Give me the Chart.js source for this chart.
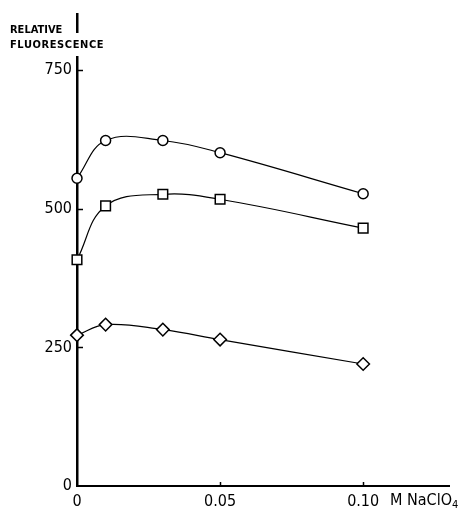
<!DOCTYPE html>
<html>
<head>
<meta charset="utf-8">
<script src="https://cdn.jsdelivr.net/npm/chart.js@4/dist/chart.umd.min.js"></script>
<style>
  html, body { margin: 0; padding: 0; background: #fff; }
  #wrap { width: 463px; height: 509px; }
</style>
</head>
<body>
<div id="wrap"><canvas id="c" width="463" height="509"></canvas></div>
<script>
// NaClO4 concentration (M) at which fluorescence was measured
const concentrations = [0, 0.01, 0.03, 0.05, 0.10];
// Relative fluorescence, one series per marker type
const circleSeries  = [555, 623, 623, 601, 527];
const squareSeries  = [408, 505, 526, 517, 465];
const diamondSeries = [272, 291, 282, 264, 220];
// Labelled tick values
const yTickValues = [0, 250, 500, 750];
const xTickValues = [0, 0.05, 0.10];

const FONT = '"DejaVu Sans Condensed", "DejaVu Sans", sans-serif';

function toPoints(values) {
  return concentrations.map((x, i) => ({ x: x, y: values[i] }));
}

function series(values, style, radius) {
  return {
    data: toPoints(values),
    borderColor: '#000',
    borderWidth: 1.2,
    tension: 0.4,
    fill: false,
    pointStyle: style,
    pointRadius: radius,
    pointBorderWidth: 1.5,
    pointBorderColor: '#000',
    pointBackgroundColor: '#fff',
    clip: false
  };
}

// Title, inward tick marks and the unit label
const decorations = {
  id: 'decorations',
  afterDraw(chart) {
    const ctx = chart.ctx;
    const xs = chart.scales.x, ys = chart.scales.y;
    ctx.save();

    // axis line is broken where the title crosses it
    ctx.fillStyle = '#fff';
    ctx.fillRect(73, 33, 9, 23);

    ctx.fillStyle = '#000';
    ctx.textAlign = 'left';
    ctx.textBaseline = 'alphabetic';
    ctx.font = 'bold 11px ' + FONT;
    ctx.fillText('RELATIVE', 10, 33);
    ctx.font = 'bold 11px ' + FONT;
    if ('letterSpacing' in ctx) ctx.letterSpacing = '0.6px';
    ctx.fillText('FLUORESCENCE', 10, 48);
    if ('letterSpacing' in ctx) ctx.letterSpacing = '0px';

    ctx.strokeStyle = '#000';
    ctx.lineWidth = 1.5;
    const x0 = xs.getPixelForValue(0);
    const y0 = ys.getPixelForValue(0);
    yTickValues.filter(v => v > 0).forEach(v => {
      const y = Math.round(ys.getPixelForValue(v)) + 0.5;
      ctx.beginPath();
      ctx.moveTo(x0, y);
      ctx.lineTo(x0 + 6, y);
      ctx.stroke();
    });
    xTickValues.filter(v => v > 0).forEach(v => {
      const x = Math.round(xs.getPixelForValue(v)) + 0.5;
      ctx.beginPath();
      ctx.moveTo(x, y0);
      ctx.lineTo(x, y0 - 4);
      ctx.stroke();
    });

    // unit label with subscript
    ctx.font = '16px ' + FONT;
    ctx.fillText('M NaClO', 390, 505);
    const w = ctx.measureText('M NaClO').width;
    ctx.font = '11px ' + FONT;
    ctx.fillText('4', 390 + w, 508);
    ctx.restore();
  }
};

new Chart(document.getElementById('c'), {
  type: 'line',
  data: {
    datasets: [
      series(circleSeries, 'circle', 5),
      series(squareSeries, 'rect', 6.8),
      series(diamondSeries, 'rectRot', 6.3)
    ]
  },
  options: {
    responsive: false,
    animation: false,
    layout: { padding: { top: 11, right: 14, left: 0, bottom: 0 } },
    plugins: { legend: { display: false }, tooltip: { enabled: false } },
    scales: {
      x: {
        type: 'linear',
        min: 0,
        max: 0.13,
        afterFit(s) { s.height = 509 - 486; },
        afterBuildTicks(s) { s.ticks = xTickValues.map(v => ({ value: v })); },
        grid: { display: false, drawTicks: false },
        border: { display: true, color: '#000', width: 2 },
        ticks: {
          autoSkip: false,
          maxRotation: 0,
          padding: 6,
          color: '#000',
          font: { family: FONT, size: 16 },
          callback: v => (v === 0 ? '0' : v.toFixed(2))
        }
      },
      y: {
        type: 'linear',
        min: 0,
        max: 850,
        afterFit(s) { s.width = 77; },
        afterBuildTicks(s) { s.ticks = yTickValues.map(v => ({ value: v })); },
        grid: { display: false, drawTicks: false },
        border: { display: true, color: '#000', width: 2.5 },
        ticks: {
          padding: 5,
          color: '#000',
          font: { family: FONT, size: 16 },
          callback: v => String(v)
        }
      }
    }
  },
  plugins: [decorations]
});
</script>
</body>
</html>
